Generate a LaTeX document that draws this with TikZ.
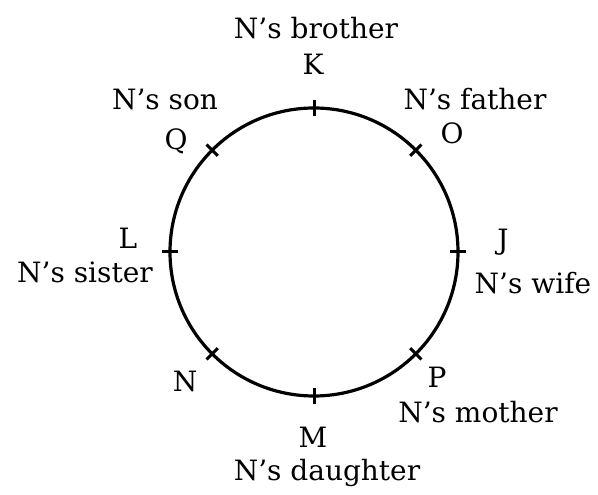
\documentclass[tikz,border=0pt]{standalone}
\usepackage{fontspec}
\setmainfont{DejaVu Serif}
\begin{document}
\begin{tikzpicture}[x=1pt,y=1pt,
  lbl/.style={inner sep=0pt, font=\fontsize{28}{30}\selectfont},
  ring/.style={draw, circle, line width=3.2pt, minimum size=288pt, inner sep=0pt},
  tick/.style={line width=3pt}]
\useasboundingbox (0,0) rectangle (598,495);
\node[ring] (c) at (314,243) {};
% ticks
\foreach \a/\n in {90/k,45/o,0/j,-45/p,-90/m,-135/nn,180/l,135/q}{
  \coordinate (\n1) at ([shift={(\a:136)}]c.center);
  \coordinate (\n2) at ([shift={(\a:152)}]c.center);
  \draw[tick] (\n1) -- (\n2);
}
% labels
\node[lbl] (tbrother) at (316,467) {N's brother};
\node[lbl] (tK) at (313,431) {K};
\node[lbl] (tson) at (165,396) {N's son};
\node[lbl] (tQ) at (176,354) {Q};
\node[lbl] (tfather) at (475,396) {N's father};
\node[lbl] (tO) at (452,362) {O};
\node[lbl] (tL) at (128,257) {L};
\node[lbl] (tsister) at (85,223) {N's sister};
\node[lbl] (tJ) at (503,253) {J};
\node[lbl] (twife) at (533,212) {N's wife};
\node[lbl] (tN) at (185,114) {N};
\node[lbl] (tP) at (437,118) {P};
\node[lbl] (tmother) at (478,83) {N's mother};
\node[lbl] (tM) at (313,58) {M};
\node[lbl] (tdaughter) at (327,22) {N's daughter};
\end{tikzpicture}
\end{document}
